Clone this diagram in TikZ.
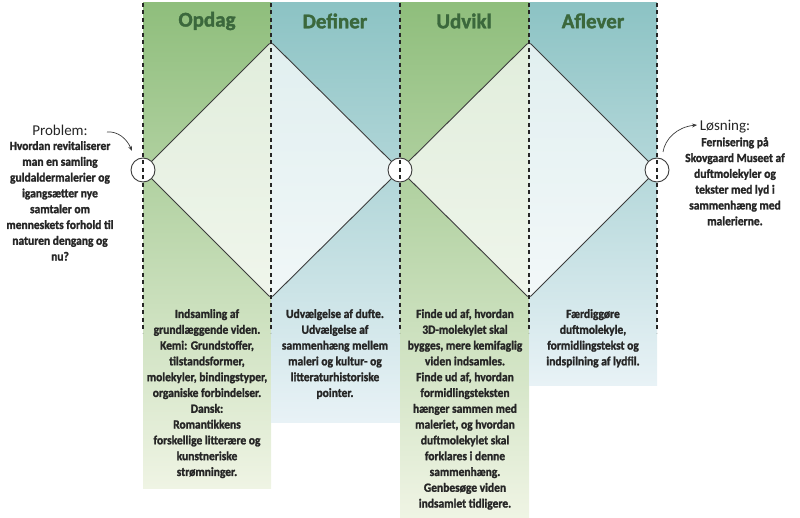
\documentclass[tikz,border=0pt]{standalone}
\usepackage{fontspec}
\setmainfont{Carlito}
\newfontfamily\condfont{Carlito}[FakeStretch=0.92, BoldFeatures={FakeBold=1.6}]
\newfontfamily\headfont{Carlito}[BoldFeatures={FakeBold=1.6}]
\usetikzlibrary{arrows.meta}
\definecolor{gtop}{RGB}{143,190,124}
\definecolor{gbot}{RGB}{239,244,228}
\definecolor{ttop}{RGB}{140,195,196}
\definecolor{tbot}{RGB}{232,242,246}
\definecolor{headc}{RGB}{59,104,60}
\definecolor{txtc}{RGB}{38,38,38}
\definecolor{linec}{RGB}{60,60,60}
\tikzset{
  diamline/.style={draw=linec, line width=0.9pt, rounded corners=3pt},
  diamfill/.style={fill=white, fill opacity=0.72},
  circnode/.style={circle, draw=linec, fill=white, line width=0.9pt, minimum size=24pt, inner sep=0pt},
  dashln/.style={draw=black!85, line width=1.5pt, dash pattern=on 4pt off 3.5pt},
  headtxt/.style={font=\headfont\bfseries\fontsize{21}{24}\selectfont, text=headc, inner sep=0pt},
  boxtxt/.style={font=\condfont\bfseries\fontsize{12.5}{15.8}\selectfont, text=txtc, align=center, inner sep=0pt, anchor=north},
  lbltxt/.style={font=\fontsize{15}{17}\selectfont, text=txtc, inner sep=0pt},
  arrln/.style={draw=linec, line width=0.7pt, -{Stealth[length=5pt,width=4pt]}}
}
\begin{document}
\begin{tikzpicture}[x=1pt,y=-1pt]
\useasboundingbox (0,0) rectangle (800,518);
% columns
\shade[top color=gtop, bottom color=gbot] (143,3) rectangle (271,488);
\shade[top color=ttop, bottom color=tbot] (271,3) rectangle (400,422);
\shade[top color=gtop, bottom color=gbot] (400,3) rectangle (529,517);
\shade[top color=ttop, bottom color=tbot] (529,3) rectangle (657,385);
% diamond vertices
\coordinate (d1l) at (143,170);
\coordinate (d1t) at (271,42);
\coordinate (d1r) at (400,170);
\coordinate (d1b) at (271,298);
\coordinate (d2t) at (529,42);
\coordinate (d2r) at (657,170);
\coordinate (d2b) at (529,298);
\fill[diamfill] (d1l) -- (d1t) -- (d1r) -- (d1b) -- cycle;
\fill[diamfill] (d1r) -- (d2t) -- (d2r) -- (d2b) -- cycle;
\draw[diamline] (d1l) -- (d1t) -- (d1r) -- (d1b) -- cycle;
\draw[diamline] (d1r) -- (d2t) -- (d2r) -- (d2b) -- cycle;
% circles
\node[circnode] (c1) at (d1l) {};
\node[circnode] (c2) at (d1r) {};
\node[circnode] (c3) at (d2r) {};
% dashed separators
\coordinate (s1t) at (143,3); \coordinate (s1b) at (143,333);
\coordinate (s2t) at (271,3); \coordinate (s2b) at (271,333);
\coordinate (s3t) at (400,3); \coordinate (s3b) at (400,333);
\coordinate (s4t) at (529,3); \coordinate (s4b) at (529,333);
\coordinate (s5t) at (657,3); \coordinate (s5b) at (657,333);
\draw[dashln] (s1t) -- (s1b);
\draw[dashln] (s2t) -- (s2b);
\draw[dashln] (s3t) -- (s3b);
\draw[dashln] (s4t) -- (s4b);
\draw[dashln] (s5t) -- (s5b);
% headers
\node[headtxt] (h1) at (207,21) {Opdag};
\node[headtxt] (h2) at (335,21) {Definer};
\node[headtxt] (h3) at (464,21) {Udvikl};
\node[headtxt] (h4) at (593,21) {Aflever};
% box texts
\node[boxtxt] (b1) at (207,309) {Indsamling af\\grundlæggende viden.\\Kemi: Grundstoffer,\\tilstandsformer,\\molekyler, bindingstyper,\\organiske forbindelser.\\Dansk:\\Romantikkens\\forskellige litterære og\\kunstneriske\\strømninger.};
\node[boxtxt] (b2) at (335,309) {Udvælgelse af dufte.\\Udvælgelse af\\sammenhæng mellem\\maleri og kultur- og\\litteraturhistoriske\\pointer.};
\node[boxtxt] (b3) at (465,309) {Finde ud af, hvordan\\3D-molekylet skal\\bygges, mere kemifaglig\\viden indsamles.\\Finde ud af, hvordan\\formidlingsteksten\\hænger sammen med\\maleriet, og hvordan\\duftmolekylet skal\\forklares i denne\\sammenhæng.\\Genbesøge viden\\indsamlet tidligere.};
\node[boxtxt] (b4) at (593,309) {Færdiggøre\\duftmolekyle,\\formidlingstekst og\\indspilning af lydfil.};
% problem
\node[lbltxt] (plbl) at (60,130) {Problem:};
\node[boxtxt] (ptxt) at (60,141) {Hvordan revitaliserer\\man en samling\\guldaldermalerier og\\igangsætter nye\\samtaler om\\menneskets forhold til\\naturen dengang og\\nu?};
% solution
\node[lbltxt] (slbl) at (725,127) {Løsning:};
\node[boxtxt] (stxt) at (735,137) {Fernisering på\\Skovgaard Museet af\\duftmolekyler og\\tekster med lyd i\\sammenhæng med\\malerierne.};
% arrows
\coordinate (pa) at (107,132);
\coordinate (pb) at (132,151);
\draw[arrln] (pa) .. controls (118,131) and (127,139) .. (pb);
\coordinate (sa) at (663,152);
\coordinate (sb) at (697,125);
\draw[arrln] (sa) .. controls (665,139) and (677,127) .. (sb);
\end{tikzpicture}
\end{document}
